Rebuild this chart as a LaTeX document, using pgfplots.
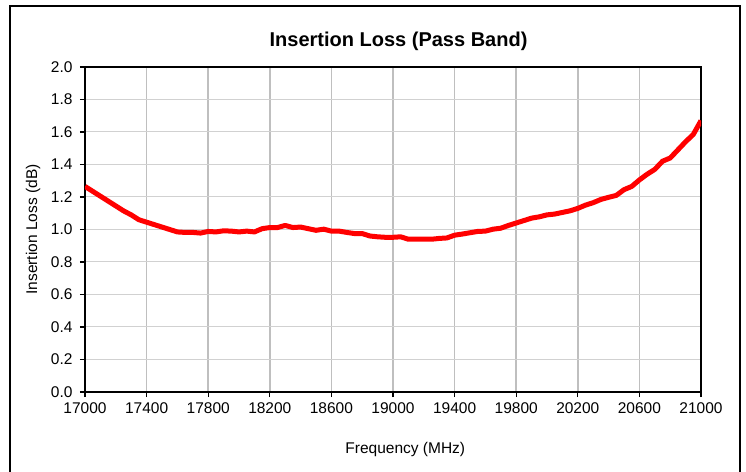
\documentclass[border=0pt]{standalone}
\usepackage{pgfplots}
\pgfplotsset{compat=1.18}
\usepackage{fontspec}
\setmainfont{Liberation Sans}
\begin{document}
\begin{tikzpicture}[x=1pt,y=1pt]
\useasboundingbox (0,0) rectangle (746,471);
\draw[line width=2pt,black] (10,-5) -- (10,465) -- (740,465) -- (740,-5);
\begin{axis}[
  at={(85pt,79pt)}, anchor=south west,
  scale only axis, width=616pt, height=325pt,
  xmin=17000, xmax=21000, ymin=0, ymax=2,
  xtick={17000,17400,...,21000},
  ytick={0,0.2,...,2.0},
  scaled x ticks=false,
  /pgf/number format/assume math mode=true,
  xticklabel style={/pgf/number format/.cd, fixed, precision=0, set thousands separator={}, /tikz/.cd, font=\fontsize{15.5}{17}\selectfont, yshift=-2pt},
  yticklabel style={/pgf/number format/.cd, fixed, fixed zerofill, precision=1, /tikz/.cd, font=\fontsize{15.5}{17}\selectfont, xshift=-4pt},
  tick align=outside, tick pos=left, major tick length=5pt,
  tick style={black, line width=1.2pt},
  axis line style={black, line width=2pt},
  xmajorgrids, ymajorgrids,
  x grid style={black!25, line width=1.5pt},
  y grid style={black!18, line width=1pt},
  title={\bfseries Insertion Loss (Pass Band)},
  title style={at={(axis description cs:0.509,1.0615)}, anchor=center, font=\fontsize{20}{22}\selectfont},
  xlabel={Frequency (MHz)},
  xlabel style={at={(axis description cs:0.52,-0.178)}, anchor=center, font=\fontsize{15.5}{17}\selectfont},
  ylabel={Insertion Loss (dB)},
  ylabel style={at={(axis description cs:-0.0844,0.5)}, anchor=center, rotate=0, font=\fontsize{15.5}{17}\selectfont},
]
\addplot[red, line width=5pt, line join=round] coordinates {
(17000,1.265) (17050,1.235) (17100,1.205) (17150,1.175) (17200,1.145) (17250,1.115)
(17300,1.09) (17350,1.06) (17400,1.045) (17450,1.03) (17500,1.015) (17550,1.0)
(17600,0.985) (17650,0.982) (17700,0.982) (17750,0.978) (17800,0.988) (17850,0.985)
(17900,0.992) (17950,0.99) (18000,0.985) (18050,0.99) (18100,0.985) (18150,1.005)
(18200,1.012) (18250,1.012) (18300,1.025) (18350,1.012) (18400,1.015) (18450,1.005)
(18500,0.995) (18550,1.002) (18600,0.99) (18650,0.99) (18700,0.982) (18750,0.975)
(18800,0.975) (18850,0.96) (18900,0.955) (18950,0.952) (19000,0.952) (19050,0.955)
(19100,0.94) (19150,0.94) (19200,0.94) (19250,0.94) (19300,0.945) (19350,0.948)
(19400,0.965) (19450,0.972) (19500,0.98) (19550,0.988) (19600,0.99) (19650,1.002)
(19700,1.008) (19750,1.025) (19800,1.04) (19850,1.055) (19900,1.07) (19950,1.078)
(20000,1.09) (20050,1.095) (20100,1.105) (20150,1.115) (20200,1.13) (20250,1.15)
(20300,1.165) (20350,1.185) (20400,1.198) (20450,1.21) (20500,1.245) (20550,1.265)
(20600,1.305) (20650,1.34) (20700,1.37) (20750,1.42) (20800,1.44) (20850,1.49)
(20900,1.54) (20950,1.585) (21000,1.67)
};
\end{axis}
\end{tikzpicture}
\end{document}
